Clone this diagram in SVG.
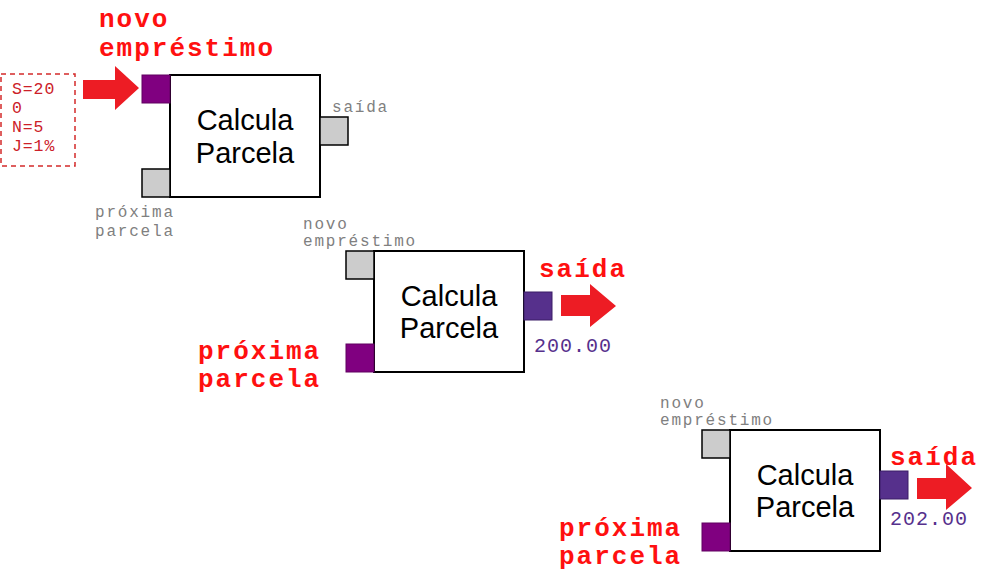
<svg xmlns="http://www.w3.org/2000/svg" width="1002" height="582" viewBox="0 0 1002 582">
<style>
.box{fill:#fff;stroke:#000;stroke-width:2}
.pg{fill:#cccccc;stroke:#000;stroke-width:1.5}
.pp{fill:#800080;stroke:#600060;stroke-width:1}
.pd{fill:#56308c;stroke:#3a1c66;stroke-width:1}
.title{font-family:"Liberation Sans",Arial,sans-serif;font-size:29px;fill:#000;text-anchor:middle}
.red{font-family:"Liberation Mono","Courier New",monospace;font-weight:bold;font-size:26px;letter-spacing:2px;fill:#ff1010}
.gray{font-family:"Liberation Mono","Courier New",monospace;font-size:16px;letter-spacing:1.8px;fill:#808080}
.val{font-family:"Liberation Mono","Courier New",monospace;font-size:20px;letter-spacing:1px;fill:#56308c}
.param{font-family:"Liberation Mono","Courier New",monospace;font-size:16.5px;letter-spacing:0.9px;fill:#cc2028}
.arrow{fill:#ed1c24}
</style>
<g id="params">
<rect x="1" y="74" width="74" height="92" fill="none" stroke="#d42a2a" stroke-width="1.5" stroke-dasharray="5,4"/>
<text class="param" x="12" y="94">S=20</text>
<text class="param" x="12" y="113">0</text>
<text class="param" x="12" y="132">N=5</text>
<text class="param" x="12" y="151">J=1%</text>
</g>
<g id="connectors">
<polygon class="arrow" points="83,80 115,80 115,66 139,88 115,110 115,99 83,99"/>
<polygon class="arrow" points="561,295 590,295 590,284 616,306 590,327 590,316 561,316"/>
<polygon class="arrow" points="917,478 946,478 946,464 972,488 946,510 946,499 917,499"/>
</g>
<g id="node1">
<text class="red" x="99" y="27">novo</text>
<text class="red" x="99" y="56">empréstimo</text>
<rect class="box" x="170" y="75" width="150" height="122"/>
<rect class="pp" x="142" y="75" width="28" height="28"/>
<rect class="pg" x="142" y="169" width="28" height="28"/>
<rect class="pg" x="320" y="117" width="28" height="28"/>
<text class="title" x="245" y="130">Calcula</text>
<text class="title" x="245" y="163">Parcela</text>
<text class="gray" x="332" y="112">saída</text>
<text class="gray" x="95" y="217">próxima</text>
<text class="gray" x="95" y="236">parcela</text>
</g>
<g id="node2">
<text class="gray" x="303" y="229">novo</text>
<text class="gray" x="303" y="246">empréstimo</text>
<rect class="box" x="374" y="251" width="150" height="121"/>
<rect class="pg" x="346" y="251" width="28" height="28"/>
<rect class="pp" x="346" y="344" width="28" height="28"/>
<rect class="pd" x="524" y="292" width="28" height="28"/>
<text class="title" x="449" y="306">Calcula</text>
<text class="title" x="449" y="338">Parcela</text>
<text class="red" x="539" y="277">saída</text>
<text class="val" x="534" y="352">200.00</text>
<text class="red" x="198" y="359">próxima</text>
<text class="red" x="198" y="387">parcela</text>
</g>
<g id="node3">
<text class="gray" x="660" y="408">novo</text>
<text class="gray" x="660" y="425">empréstimo</text>
<rect class="box" x="730" y="430" width="150" height="121"/>
<rect class="pg" x="702" y="430" width="28" height="28"/>
<rect class="pp" x="702" y="523" width="28" height="28"/>
<rect class="pd" x="880" y="471" width="28" height="28"/>
<text class="title" x="805" y="485">Calcula</text>
<text class="title" x="805" y="517">Parcela</text>
<text class="red" x="890" y="465">saída</text>
<text class="val" x="890" y="525">202.00</text>
<text class="red" x="559" y="536">próxima</text>
<text class="red" x="559" y="564">parcela</text>
</g>
</svg>
